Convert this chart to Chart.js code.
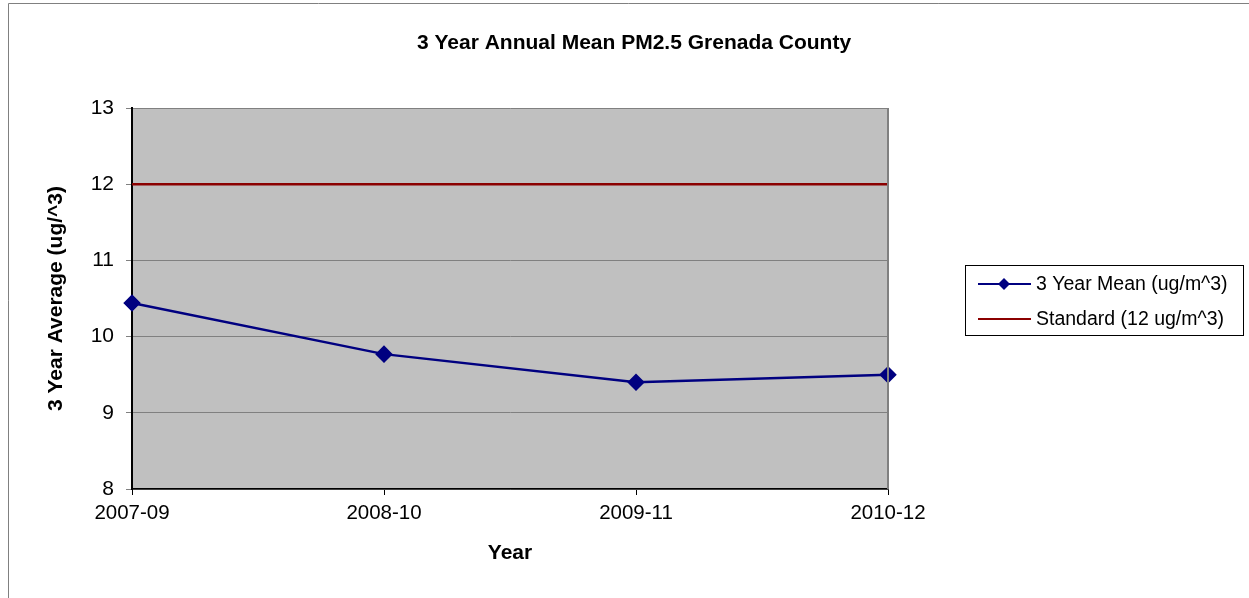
<!DOCTYPE html>
<html>
<head>
<meta charset="utf-8">
<script src="https://cdn.jsdelivr.net/npm/chart.js@4.4.1/dist/chart.umd.min.js"></script>
<style>
  html, body { margin: 0; padding: 0; background: #fff; }
  #wrap { width: 1249px; height: 598px; position: relative; }
</style>
</head>
<body>
<div id="wrap"><canvas id="chart_1" width="1249" height="598"></canvas></div>
<script>
// data
const years = ['2007-09', '2008-10', '2009-11', '2010-12']
const mean_values = [10.44, 9.77, 9.40, 9.50]
const standard_values = [12, 12, 12, 12]
const y_min = 8
const y_max = 13

const font_family = '"Liberation Sans", Arial, sans-serif'

// grey plot area, right border and the outer frame
const plot_bg = {
  id: 'plot_bg',
  beforeDraw(chart) {
    let ctx = chart.ctx
    let a = chart.chartArea
    ctx.save()
    ctx.fillStyle = '#fff'
    ctx.fillRect(0, 0, chart.width, chart.height)
    ctx.strokeStyle = '#808080'
    ctx.lineWidth = 1
    ctx.beginPath()
    ctx.moveTo(8.5, chart.height)
    ctx.lineTo(8.5, 3.5)
    ctx.lineTo(chart.width, 3.5)
    ctx.stroke()
    ctx.fillStyle = '#c0c0c0'
    ctx.fillRect(a.left, a.top, a.right - a.left, a.bottom - a.top)
    ctx.restore()
  },
  afterDatasetsDraw(chart) {
    let ctx = chart.ctx
    let a = chart.chartArea
    ctx.save()
    ctx.strokeStyle = '#808080'
    ctx.lineWidth = 2
    ctx.beginPath()
    ctx.moveTo(a.right, a.top)
    ctx.lineTo(a.right, a.bottom)
    ctx.stroke()
    ctx.restore()
  }
}

// boxed legend on the right, drawn from the datasets
const box_legend = {
  id: 'box_legend',
  afterDraw(chart) {
    let ctx = chart.ctx
    let x0 = 965, y0 = 265, w = 278, h = 70
    ctx.save()
    ctx.strokeStyle = '#000'
    ctx.lineWidth = 1
    ctx.strokeRect(x0 + 0.5, y0 + 0.5, w, h)
    ctx.font = '19.5px ' + font_family
    ctx.textBaseline = 'middle'
    chart.data.datasets.forEach(function (ds, i) {
      let cy = y0 + 19 + i * 35
      ctx.strokeStyle = ds.borderColor
      ctx.lineWidth = 2
      ctx.beginPath()
      ctx.moveTo(978, cy)
      ctx.lineTo(1031, cy)
      ctx.stroke()
      if (ds.pointRadius > 0) {
        ctx.fillStyle = ds.borderColor
        ctx.beginPath()
        ctx.moveTo(1004, cy - 6)
        ctx.lineTo(1010, cy)
        ctx.lineTo(1004, cy + 6)
        ctx.lineTo(998, cy)
        ctx.closePath()
        ctx.fill()
      }
      ctx.fillStyle = '#000'
      ctx.fillText(ds.label, 1036, cy + 1)
    })
    ctx.restore()
  }
}

function draw_chart() {
  let ctx = document.getElementById('chart_1').getContext('2d')
  let chart1 = new Chart(ctx, {
    type: 'line',
    data: {
      labels: years,
      datasets: [
        {
          label: '3 Year Mean (ug/m^3)',
          data: mean_values,
          borderColor: '#000080',
          backgroundColor: '#000080',
          borderWidth: 2.5,
          pointStyle: 'rectRot',
          pointRadius: 7,
          pointHoverRadius: 7,
          tension: 0,
          order: 0
        },
        {
          label: 'Standard (12 ug/m^3)',
          data: standard_values,
          borderColor: '#8b0000',
          backgroundColor: '#8b0000',
          borderWidth: 2.5,
          pointRadius: 0,
          tension: 0,
          order: 1
        }
      ]
    },
    options: {
      responsive: false,
      animation: false,
      layout: { padding: { top: 108, left: 0, right: 1249 - 888, bottom: 0 } },
      plugins: {
        legend: { display: false },
        tooltip: { enabled: false },
        title: { display: false }
      },
      scales: {
        x: {
          offset: false,
          grid: {
            display: true,
            drawOnChartArea: false,
            drawTicks: true,
            tickLength: 6,
            color: '#000'
          },
          border: { display: true, color: '#000', width: 1.5 },
          ticks: {
            color: '#000',
            padding: 6,
            maxRotation: 0,
            font: { family: font_family, size: 20.5 }
          },
          title: {
            display: true,
            text: 'Year',
            color: '#000',
            padding: { top: 0, bottom: 32 },
            font: { family: font_family, size: 21, weight: 'bold' }
          },
          afterFit(scale) { scale.height = 598 - 489 }
        },
        y: {
          min: y_min,
          max: y_max,
          ticks: {
            stepSize: 1,
            color: '#000',
            padding: 12,
            font: { family: font_family, size: 21 }
          },
          grid: {
            color: '#808080',
            lineWidth: 1,
            tickLength: 6
          },
          border: { display: true, color: '#000', width: 2 },
          title: {
            display: true,
            text: '3 Year Average (ug/^3)',
            color: '#000',
            padding: { top: 44, bottom: 0 },
            font: { family: font_family, size: 21, weight: 'bold' }
          },
          afterFit(scale) { scale.width = 132 }
        }
      }
    },
    plugins: [plot_bg, box_legend, {
      id: 'top_title',
      afterDraw(chart) {
        let c = chart.ctx
        c.save()
        c.font = 'bold 21px ' + font_family
        c.fillStyle = '#000'
        c.textAlign = 'center'
        c.textBaseline = 'middle'
        c.fillText('3 Year Annual Mean PM2.5 Grenada County', 634, 43)
        c.restore()
      }
    }]
  })
}

draw_chart()
</script>
</body>
</html>
